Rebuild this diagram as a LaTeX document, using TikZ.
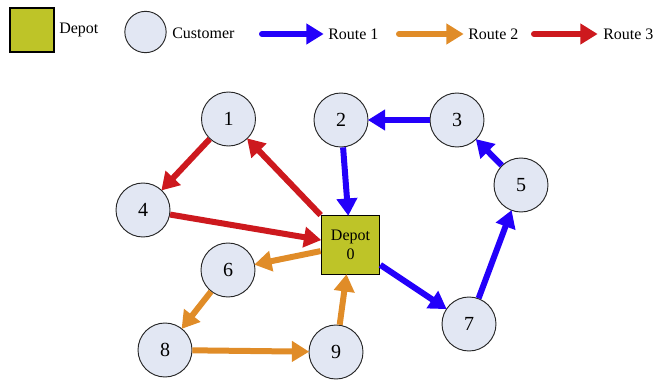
\documentclass[tikz,border=0pt]{standalone}
\usepackage{fontspec}
\setmainfont{Liberation Serif}
\usetikzlibrary{arrows.meta}
\definecolor{rblue}{RGB}{35,0,250}
\definecolor{rorange}{RGB}{224,140,40}
\definecolor{rred}{RGB}{205,25,30}
\definecolor{depotfill}{RGB}{190,196,40}
\definecolor{custfill}{RGB}{226,231,243}
\tikzset{
  customer/.style={circle,draw=black!85,line width=0.7pt,fill=custfill,minimum size=40.5pt,inner sep=0pt,font=\fontsize{15}{17}\selectfont},
  depot/.style={rectangle,draw=black,line width=0.8pt,fill=depotfill,minimum size=44pt,inner sep=0pt,align=center,font=\fontsize{12}{14}\selectfont},
  legcust/.style={circle,draw=black!85,line width=0.7pt,fill=custfill,minimum size=31pt,inner sep=0pt},
  legdepot/.style={rectangle,draw=black,line width=0.8pt,fill=depotfill,minimum size=33pt,inner sep=0pt},
  legtext/.style={anchor=west,inner sep=0pt,font=\fontsize{12}{14}\selectfont},
  route/.style={line width=4.5pt,-{Triangle[length=13pt,width=15pt]},shorten >=-0.5pt},
  legroute/.style={route,line cap=round},
  r1/.style={draw=rblue},
  r2/.style={draw=rorange},
  r3/.style={draw=rred}
}
\begin{document}
\begin{tikzpicture}[x=0.75pt,y=-0.75pt]
\useasboundingbox (0,0) rectangle (653,381);
% legend
\node[legdepot] (ld) at (32,30) {};
\node[legtext] (ldt) at (59,30) {Depot};
\node[legcust] (lc) at (145.5,32) {};
\node[legtext] (lct) at (172,33) {Customer};
\coordinate (a1s) at (262,34);
\coordinate (a1e) at (323,34);
\draw[legroute,r1] (a1s) -- (a1e);
\node[legtext] (l1) at (328,34) {Route 1};
\coordinate (a2s) at (399,34);
\coordinate (a2e) at (463,34);
\draw[legroute,r2] (a2s) -- (a2e);
\node[legtext] (l2) at (468,34) {Route 2};
\coordinate (a3s) at (534,34);
\coordinate (a3e) at (597,34);
\draw[legroute,r3] (a3s) -- (a3e);
\node[legtext] (l3) at (603,34) {Route 3};
% network
\node[depot] (d) at (350.5,245) {Depot\\0};
\node[customer] (n1) at (228.5,119) {1};
\node[customer] (n2) at (341,120) {2};
\node[customer] (n3) at (457,120) {3};
\node[customer] (n4) at (143,210) {4};
\node[customer] (n5) at (521,185) {5};
\node[customer] (n6) at (228,270) {6};
\node[customer] (n7) at (469,324) {7};
\node[customer] (n8) at (165,350) {8};
\node[customer] (n9) at (336,352) {9};
% route 1
\draw[route,r1] (d) -- (n7);
\draw[route,r1] (n7) -- (n5);
\draw[route,r1] (n5) -- (n3);
\draw[route,r1] (n3) -- (n2);
\draw[route,r1] (n2) -- (d);
% route 2
\draw[route,r2] (d) -- (n6);
\draw[route,r2] (n6) -- (n8);
\draw[route,r2] (n8) -- (n9);
\draw[route,r2] (n9) -- (d);
% route 3
\draw[route,r3] (d.north west) -- (n1);
\draw[route,r3] (n1) -- (n4);
\draw[route,r3] (n4) -- (d);
\end{tikzpicture}
\end{document}
